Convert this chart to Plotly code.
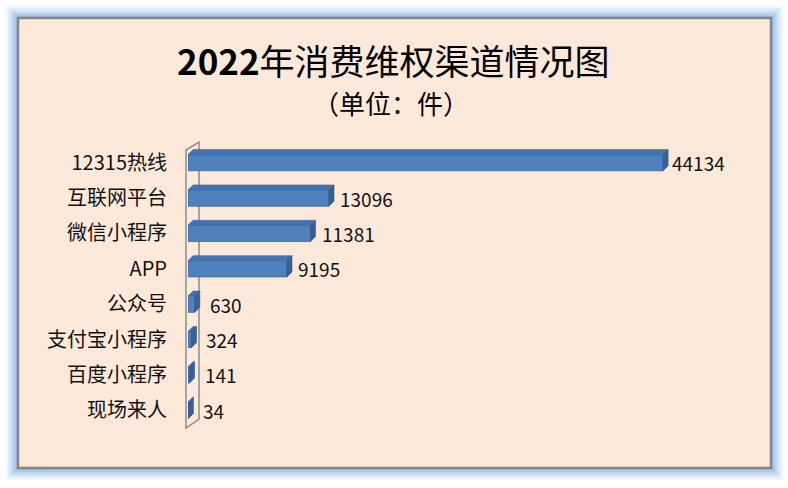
import plotly.graph_objects as go

# channel categories and complaint counts (2022)
channels = ['12315热线', '互联网平台', '微信小程序', 'APP', '公众号', '支付宝小程序', '百度小程序', '现场来人']
counts = [44134, 13096, 11381, 9195, 630, 324, 141, 34]

W, H = 788, 488
L, R, T, B = 188, 51, 145, 60
PW, PH = W - L - R, H - T - B
X_MAX = 51000

BAR_BLUE = '#4F81BD'
CAP_BLUE = '#35609A'
TOP_BLUE = '#4474B0'
FONT = 'Noto Sans CJK SC'


def px(x):
    """pixel x -> paper x"""
    return (x - L) / PW


def py(y):
    """pixel y (from top) -> paper y"""
    return (H - B - y) / PH


ypos = list(range(len(channels)))

fig = go.Figure()
fig.add_trace(go.Bar(
    x=counts, y=ypos, orientation='h', width=0.46,
    marker=dict(color=BAR_BLUE, line=dict(color='#3A68A0', width=0.8)),
    hoverinfo='x+text', hovertext=channels,
))

shapes = []
# blue glow round the chart box
for k, a in [(12, 0.10), (10, 0.13), (8, 0.17), (6, 0.22), (4, 0.30), (2, 0.40)]:
    shapes.append(dict(type='rect', xref='paper', yref='paper', layer='below',
                       x0=px(18 - k), x1=px(771 + k), y0=py(468 + k), y1=py(18 - k),
                       fillcolor='rgba(130,172,228,%.2f)' % a, line=dict(width=0)))
# chart box
shapes.append(dict(type='rect', xref='paper', yref='paper', layer='below',
                   x0=px(18), x1=px(771), y0=py(468), y1=py(18),
                   fillcolor='#FDE9D9', line=dict(color='#858585', width=2.5)))
# side wall
wall = 'M %f,%f L %f,%f L %f,%f L %f,%f Z' % (
    px(186), py(428), px(186), py(150), px(199), py(142), px(199), py(419))
shapes.append(dict(type='path', xref='paper', yref='paper', layer='below', path=wall,
                   fillcolor='#FDEBDD', line=dict(color='#8C8C8C', width=1.5)))

# 3D top face and end cap of each bar
dx = 5 / (PW / X_MAX)
dy = 5 / (PH / len(channels))
for i, v in zip(ypos, counts):
    yt, yb = i - 0.23, i + 0.23
    shapes.append(dict(type='path', xref='x', yref='y', layer='above',
                       path='M 0,%f L %f,%f L %f,%f L %f,%f Z' % (yt, v, yt, v + dx, yt - dy, dx, yt - dy),
                       fillcolor=TOP_BLUE, line=dict(color='#3A68A0', width=0.6)))
    shapes.append(dict(type='path', xref='x', yref='y', layer='above',
                       path='M %f,%f L %f,%f L %f,%f L %f,%f Z' % (v, yt, v + dx, yt - dy, v + dx, yb - dy, v, yb),
                       fillcolor=CAP_BLUE, line=dict(color='#2F5585', width=0.6)))

annotations = [
    dict(text='<b>2022</b>年消费维权渠道情况图', xref='paper', yref='paper',
         x=px(393), y=py(59), xanchor='center', yanchor='middle', showarrow=False,
         font=dict(family=FONT, size=35, color='#000000')),
    dict(text='（单位：件）', xref='paper', yref='paper',
         x=px(391), y=py(102), xanchor='center', yanchor='middle', showarrow=False,
         font=dict(family=FONT, size=26, color='#000000')),
]
# value labels just past the end of each bar
for i, v in zip(ypos, counts):
    annotations.append(dict(text=str(v), x=v, y=i, xref='x', yref='y',
                            xanchor='left', yanchor='middle', showarrow=False,
                            xshift=7 if v > 20000 else (9 if v > 5000 else 13),
                            font=dict(family=FONT, size=19, color='#111111')))

fig.update_layout(
    width=W, height=H,
    margin=dict(l=L, r=R, t=T, b=B),
    paper_bgcolor='white', plot_bgcolor='rgba(0,0,0,0)',
    showlegend=False,
    shapes=shapes,
    annotations=annotations,
    xaxis=dict(range=[0, X_MAX], visible=False, fixedrange=True),
    yaxis=dict(range=[len(channels) - 0.5, -0.5], tickvals=ypos, ticktext=channels,
               showgrid=False, zeroline=False, showline=False, ticks='',
               ticklabelstandoff=20, automargin=False, fixedrange=True,
               tickfont=dict(family=FONT, size=20, color='#111111')),
)

fig.write_html('out.html', config={'displayModeBar': False},
               post_script="document.body.style.margin='0';")
